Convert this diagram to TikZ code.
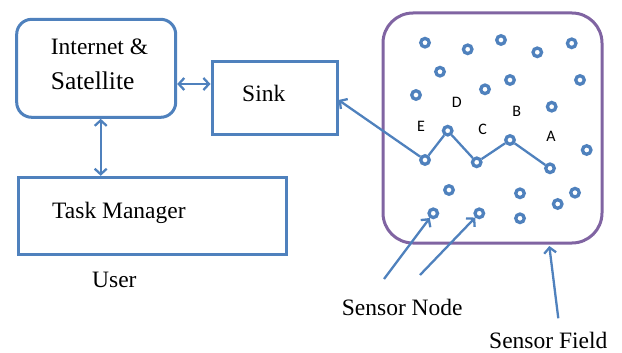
\documentclass[tikz,border=0pt]{standalone}
\usepackage{fontspec}
\setmainfont{Liberation Serif}
\newfontfamily\lblfont{Carlito}
\usetikzlibrary{arrows.meta}
\definecolor{boxblue}{RGB}{79,129,189}
\definecolor{fieldpurple}{RGB}{128,100,162}
\begin{document}
\begin{tikzpicture}[x=1pt,y=-1pt,
  box/.style={draw=boxblue,line width=3pt,inner sep=0pt},
  txt/.style={anchor=base west,inner sep=0pt,font=\fontsize{23.5}{28}\selectfont},
  sensor/.style={circle,draw=boxblue,line width=3.3pt,minimum size=8.5pt,inner sep=0pt},
  lbl/.style={inner sep=0pt,font=\lblfont\fontsize{16}{18}\selectfont},
  link/.style={draw=boxblue,line width=2.3pt},
  arr/.style={link,-{Straight Barb[length=5.5pt,width=12pt,line width=2.3pt]}},
  dbl/.style={link,{Straight Barb[length=5.5pt,width=12pt,line width=2.3pt]}-{Straight Barb[length=5.5pt,width=12pt,line width=2.3pt]}}]
\useasboundingbox (0,0) rectangle (622,353);
% boxes
\node[box,rounded corners=15pt,minimum width=159pt,minimum height=98pt] (inet) at (96.2,68.3) {};
\node[box,minimum width=125pt,minimum height=72.3pt] (sink) at (274.5,97.9) {};
\node[box,minimum width=268.4pt,minimum height=77pt] (task) at (152.5,215.8) {};
\node[draw=fieldpurple,line width=3pt,rounded corners=30pt,minimum width=219pt,minimum height=230pt,inner sep=0pt] (field) at (492.5,128) {};
% texts
\node[txt] (t1) at (50.7,55) {Internet \&};
\node[txt,font=\fontsize{25.5}{30}\selectfont] (t2) at (50.7,90) {Satellite};
\node[txt] (t3) at (242,102) {Sink};
\node[txt] (t4) at (52,218) {Task Manager};
\node[txt] (t5) at (92,287) {User};
\node[txt] (t6) at (341.7,315) {Sensor Node};
\node[txt] (t7) at (489,348) {Sensor Field};
% sensors
\foreach \n/\x/\y in {1/425/42.7, 2/467.7/49.3, 3/501/40, 4/537.3/52.3, 5/571.7/43.3,
  6/440/71.7, 7/510/80, 8/580/80, 9/485/89.3, 10/416/95, 11/551.7/106.7,
  12/447.7/130.7, 13/425/160, 14/476.7/162.3, 15/510/140, 16/550/168.3,
  17/586.7/150, 18/449/190, 19/520/193.3, 20/575/192.7, 21/557.7/204,
  22/433.3/213.3, 23/479.3/213.3, 24/520/218.3}
  \node[sensor] (c\n) at (\x,\y) {};
% labels
\node[lbl] (la) at (551,136) {A};
\node[lbl] (lb) at (516.7,111.7) {B};
\node[lbl] (lc) at (482.7,129) {C};
\node[lbl] (ld) at (456.7,102.7) {D};
\node[lbl] (le) at (421,126) {E};
% connectors
\draw[dbl] (inet.east |- 0,84) -- (sink.west |- 0,84);
\draw[dbl] (inet.south -| 100.7,0) -- (task.north -| 100.7,0);
\draw[link] (c16) -- (c15) -- (c14) -- (c12) -- (c13);
\draw[arr] (c13) -- (sink.east |- 0,100);
\coordinate (s1) at (384,279);
\coordinate (s2) at (420,275);
\coordinate (s3) at (558.3,318.3);
\coordinate (s4) at (549.3,246);
\draw[arr] (s1) -- (c22);
\draw[arr] (s2) -- (c23);
\draw[arr] (s3) -- (s4);
\end{tikzpicture}
\end{document}
